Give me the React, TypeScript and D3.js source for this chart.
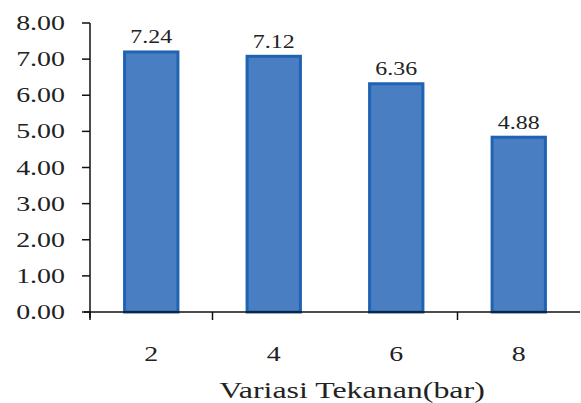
import React from "react";
import * as d3 from "d3";

const categories = ["2", "4", "6", "8"];
const values = [7.24, 7.12, 6.36, 4.88];
const yTicks = [0, 1, 2, 3, 4, 5, 6, 7, 8];
const xTitle = "Variasi Tekanan(bar)";

const W = 581;
const H = 403;
const left = 90;
const right = 580;
const bottom = 312;
const top = 23;
const SX = 1.33;
const FONT = "Liberation Serif";

export default function App() {
  const x = d3
    .scaleBand<string>()
    .domain(categories)
    .range([left, right])
    .paddingInner(0.54)
    .paddingOuter(0.27);
  const y = d3.scaleLinear().domain([0, 8]).range([bottom, top]);
  const step = x.step();
  const boundaries = [0, 1, 3].map((i) => left + i * step);

  return (
    <svg
      width={W}
      height={H}
      style={{ position: "absolute", left: 0, top: 0, background: "#fff" }}
    >
      {values.map((v, i) => {
        const bx = x(categories[i])!;
        const bw = x.bandwidth();
        return (
          <g key={i}>
            <rect
              x={bx + 1.5}
              y={y(v) + 1.5}
              width={bw - 3}
              height={y(0) - y(v) - 1.5}
              fill="#4a7ec3"
              stroke="#1f63b2"
              strokeWidth={3}
            />
            <text
              transform={`translate(${bx + bw / 2},${y(v) - 7}) scale(${SX},1)`}
              textAnchor="middle"
              fontFamily={FONT}
              fontSize={18}
              fill="#222"
            >
              {v.toFixed(2)}
            </text>
          </g>
        );
      })}
      {/* y axis */}
      <line x1={left} x2={left} y1={top} y2={bottom + 6} stroke="#111" strokeWidth={1.5} />
      {yTicks.map((t) => (
        <g key={t}>
          <line x1={left - 8} x2={left} y1={y(t)} y2={y(t)} stroke="#111" strokeWidth={1.5} />
          <text
            transform={`translate(${left - 25},${y(t) + 7}) scale(${SX},1)`}
            textAnchor="end"
            fontFamily={FONT}
            fontSize={21}
            fill="#222"
          >
            {t.toFixed(2)}
          </text>
        </g>
      ))}
      {/* x axis */}
      <line x1={left - 6} x2={right} y1={bottom} y2={bottom} stroke="#111" strokeWidth={1.5} />
      {boundaries.map((bx, i) => (
        <line key={i} x1={bx} x2={bx} y1={bottom} y2={bottom + 8} stroke="#111" strokeWidth={1.5} />
      ))}
      {categories.map((c) => (
        <text
          key={c}
          transform={`translate(${x(c)! + x.bandwidth() / 2},${361}) scale(${SX},1)`}
          textAnchor="middle"
          fontFamily={FONT}
          fontSize={21}
          fill="#222"
        >
          {c}
        </text>
      ))}
      <text
        transform={`translate(352,398) scale(${SX},1)`}
        textAnchor="middle"
        fontFamily={FONT}
        fontSize={24}
        fill="#222"
      >
        {xTitle}
      </text>
    </svg>
  );
}
